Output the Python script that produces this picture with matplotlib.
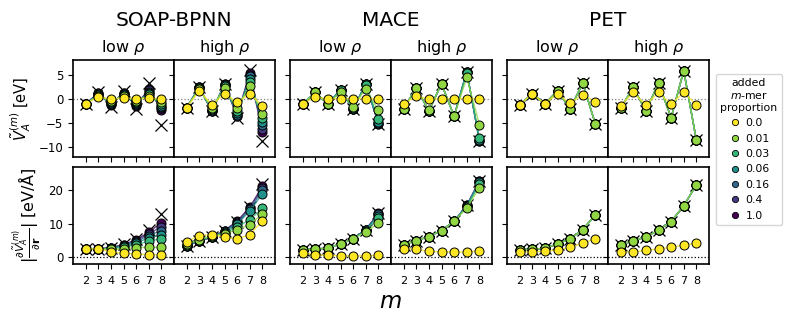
import numpy as np
import matplotlib
matplotlib.use('Agg')
import matplotlib.pyplot as plt
from matplotlib.lines import Line2D

m = [2, 3, 4, 5, 6, 7, 8]
prop_labels = ['0.0', '0.01', '0.03', '0.06', '0.16', '0.4', '1.0']
models = ['SOAP-BPNN', 'MACE', 'PET']
densities = ['low $\\rho$', 'high $\\rho$']

# energies, one row per added m-mer proportion (0.0 ... 1.0)
soap_low_V = [[-1.0, 0.35, -0.05, 0.15, 0.05, 0.1, 0.05],
              [-1.05, 0.6, -0.4, 0.5, -0.4, 0.6, -0.7],
              [-1.05, 0.8, -0.7, 0.8, -0.7, 0.9, -1.1],
              [-1.05, 0.9, -0.9, 0.9, -0.9, 1.2, -1.4],
              [-1.05, 1.0, -1.0, 1.0, -1.1, 1.5, -1.7],
              [-1.05, 1.1, -1.1, 1.1, -1.3, 1.8, -2.0],
              [-1.05, 1.2, -1.2, 1.2, -1.4, 2.0, -2.3]]
soap_low_V_ref = [-1.0, 1.4, -1.6, 1.7, -2.1, 3.3, -5.4]

soap_high_V = [[-1.8, 1.67, -1.25, 1.0, -0.7, 1.0, -1.4],
               [-1.8, 2.0, -1.9, 2.3, -1.9, 2.6, -3.1],
               [-1.8, 2.2, -2.2, 2.6, -2.6, 3.4, -3.9],
               [-1.8, 2.3, -2.4, 2.8, -3.0, 4.0, -4.7],
               [-1.8, 2.35, -2.5, 2.9, -3.3, 4.6, -5.5],
               [-1.8, 2.4, -2.5, 3.0, -3.5, 5.0, -6.2],
               [-1.8, 2.4, -2.6, 3.0, -3.6, 5.3, -6.8]]
soap_high_V_ref = [-1.8, 2.4, -2.6, 3.05, -4.0, 5.9, -8.75]

mace_low_V = [[-1.05, 0.35, 0.05, 0.05, 0.05, 0.05, 0.05],
              [-1.1, 1.3, -1.1, 1.4, -1.6, 2.1, -2.4],
              [-1.1, 1.3, -1.1, 1.8, -2.0, 2.9, -4.2],
              [-1.1, 1.3, -1.1, 1.9, -2.1, 3.0, -4.8],
              [-1.1, 1.3, -1.1, 1.9, -2.1, 3.1, -5.0],
              [-1.1, 1.3, -1.1, 1.9, -2.2, 3.1, -5.1],
              [-1.1, 1.3, -1.1, 1.9, -2.2, 3.1, -5.1]]
mace_low_V_ref = [-1.1, 1.3, -1.1, 1.9, -2.2, 3.1, -5.1]

mace_high_V = [[-1.1, 0.6, -0.1, 0.05, 0.05, 0.05, 0.05],
               [-2.1, 2.3, -2.4, 3.1, -3.6, 4.4, -5.3],
               [-2.1, 2.3, -2.5, 3.1, -3.6, 5.4, -8.1],
               [-2.1, 2.3, -2.5, 3.1, -3.6, 5.6, -8.5],
               [-2.1, 2.3, -2.5, 3.1, -3.6, 5.6, -8.5],
               [-2.1, 2.3, -2.5, 3.1, -3.6, 5.6, -8.6],
               [-2.1, 2.3, -2.5, 3.1, -3.6, 5.6, -8.6]]
mace_high_V_ref = [-2.1, 2.3, -2.5, 3.1, -3.6, 5.6, -8.6]

pet_low_V = [[-1.25, 1.05, -1.05, 1.05, -0.9, 0.85, -0.6],
             [-1.25, 1.05, -1.05, 1.65, -2.1, 3.25, -5.2],
             [-1.25, 1.05, -1.05, 1.65, -2.1, 3.25, -5.2],
             [-1.25, 1.05, -1.05, 1.65, -2.1, 3.25, -5.2],
             [-1.25, 1.05, -1.05, 1.65, -2.1, 3.25, -5.2],
             [-1.25, 1.05, -1.05, 1.65, -2.1, 3.25, -5.2],
             [-1.25, 1.05, -1.05, 1.65, -2.1, 3.25, -5.2]]
pet_low_V_ref = [-1.25, 1.05, -1.05, 1.65, -2.1, 3.25, -5.2]

pet_high_V = [[-1.4, 1.3, -1.25, 1.3, -1.1, 1.3, -1.2],
              [-1.95, 2.35, -2.5, 3.25, -3.9, 5.8, -8.55],
              [-1.95, 2.35, -2.5, 3.25, -3.9, 5.8, -8.55],
              [-1.95, 2.35, -2.5, 3.25, -3.9, 5.8, -8.55],
              [-1.95, 2.35, -2.5, 3.25, -3.9, 5.8, -8.55],
              [-1.95, 2.35, -2.5, 3.25, -3.9, 5.8, -8.55],
              [-1.95, 2.35, -2.5, 3.25, -3.9, 5.8, -8.55]]
pet_high_V_ref = [-1.9, 2.35, -2.5, 3.25, -3.9, 5.8, -8.55]

# force magnitudes
soap_low_F = [[2.6, 2.5, 1.7, 1.2, 1.0, 0.8, 0.8],
              [2.6, 2.5, 2.4, 2.5, 2.9, 3.0, 3.0],
              [2.6, 2.5, 2.6, 3.0, 3.8, 4.8, 5.6],
              [2.6, 2.5, 2.7, 3.3, 4.3, 5.8, 6.8],
              [2.6, 2.5, 2.8, 3.5, 4.7, 6.5, 8.0],
              [2.6, 2.5, 2.9, 3.7, 5.0, 7.0, 9.2],
              [2.6, 2.5, 2.9, 3.8, 5.2, 7.5, 10.4]]
soap_low_F_ref = [2.6, 2.5, 2.9, 3.9, 5.4, 8.2, 13.0]

soap_high_F = [[4.7, 6.5, 6.8, 6.0, 5.5, 6.8, 10.9],
               [4.0, 5.3, 6.4, 7.0, 8.2, 9.8, 13.0],
               [3.7, 5.1, 6.2, 7.3, 9.0, 11.3, 14.6],
               [3.5, 5.0, 6.1, 7.6, 10.0, 13.8, 19.0],
               [3.4, 5.0, 6.0, 7.8, 10.3, 14.3, 20.0],
               [3.4, 5.0, 6.0, 7.9, 10.6, 14.7, 20.7],
               [3.3, 4.9, 6.0, 8.0, 10.8, 15.0, 21.2]]
soap_high_F_ref = [3.3, 5.0, 6.0, 8.0, 10.5, 15.0, 22.0]

mace_low_F = [[1.3, 0.8, 0.6, 0.5, 0.4, 0.4, 0.6],
              [2.3, 2.4, 2.8, 4.0, 5.5, 7.6, 10.2],
              [2.3, 2.4, 2.8, 4.0, 5.5, 8.0, 11.8],
              [2.3, 2.4, 2.8, 4.0, 5.5, 8.2, 12.4],
              [2.3, 2.4, 2.8, 4.0, 5.5, 8.3, 12.8],
              [2.3, 2.4, 2.8, 4.0, 5.5, 8.3, 13.0],
              [2.3, 2.4, 2.8, 4.0, 5.5, 8.3, 13.1]]
mace_low_F_ref = [2.3, 2.4, 2.8, 4.0, 5.5, 8.3, 13.1]

mace_high_F = [[2.6, 2.4, 1.8, 1.6, 1.6, 1.5, 2.0],
               [3.8, 5.0, 6.2, 8.0, 10.8, 14.7, 20.8],
               [3.8, 5.0, 6.2, 8.0, 10.8, 15.0, 21.8],
               [3.8, 5.0, 6.2, 8.0, 10.8, 15.4, 22.5],
               [3.8, 5.0, 6.2, 8.0, 10.8, 15.4, 22.6],
               [3.8, 5.0, 6.2, 8.0, 10.8, 15.5, 22.8],
               [3.8, 5.0, 6.2, 8.0, 10.8, 15.5, 22.8]]
mace_high_F_ref = [3.8, 5.0, 6.2, 8.0, 10.8, 15.5, 22.8]

pet_low_F = [[1.5, 1.7, 1.8, 2.2, 3.0, 4.2, 5.6],
             [2.3, 2.4, 2.7, 4.0, 5.5, 8.3, 12.7],
             [2.3, 2.4, 2.7, 4.0, 5.5, 8.3, 12.7],
             [2.3, 2.4, 2.7, 4.0, 5.5, 8.3, 12.7],
             [2.3, 2.4, 2.7, 4.0, 5.5, 8.3, 12.7],
             [2.3, 2.4, 2.7, 4.0, 5.5, 8.3, 12.7],
             [2.3, 2.4, 2.7, 4.0, 5.5, 8.3, 12.7]]
pet_low_F_ref = [2.3, 2.4, 2.7, 4.0, 5.5, 8.3, 12.7]

pet_high_F = [[1.5, 1.6, 2.1, 2.5, 3.0, 3.6, 4.2],
              [3.7, 5.0, 6.1, 8.1, 10.7, 15.4, 21.7],
              [3.7, 5.0, 6.1, 8.1, 10.7, 15.4, 21.7],
              [3.7, 5.0, 6.1, 8.1, 10.7, 15.4, 21.7],
              [3.7, 5.0, 6.1, 8.1, 10.7, 15.4, 21.7],
              [3.7, 5.0, 6.1, 8.1, 10.7, 15.4, 21.7],
              [3.7, 5.0, 6.1, 8.1, 10.7, 15.4, 21.7]]
pet_high_F_ref = [3.7, 5.0, 6.1, 8.1, 10.7, 15.4, 21.7]

top_panels = [(soap_low_V, soap_low_V_ref), (soap_high_V, soap_high_V_ref),
              (mace_low_V, mace_low_V_ref), (mace_high_V, mace_high_V_ref),
              (pet_low_V, pet_low_V_ref), (pet_high_V, pet_high_V_ref)]
bottom_panels = [(soap_low_F, soap_low_F_ref), (soap_high_F, soap_high_F_ref),
                 (mace_low_F, mace_low_F_ref), (mace_high_F, mace_high_F_ref),
                 (pet_low_F, pet_low_F_ref), (pet_high_F, pet_high_F_ref)]

colors = plt.cm.viridis(np.linspace(1, 0, len(prop_labels)))

plt.rcParams['axes.linewidth'] = 1.2
plt.rcParams['xtick.labelsize'] = 8
plt.rcParams['ytick.labelsize'] = 8.5

fig = plt.figure(figsize=(7.93, 3.25), dpi=100)
W, H = 793, 325
lefts = [73, 174, 290, 391, 507, 608]
pw = 101
tops = [60, 167]
ph = 97

axes = []
for r in range(2):
    row = []
    for c in range(6):
        ax = fig.add_axes([lefts[c] / W, 1 - (tops[r] + ph) / H, pw / W, ph / H])
        row.append(ax)
    axes.append(row)


def draw(ax, series, ref, zero_color):
    ax.axhline(0, color=zero_color, ls=':', lw=0.9, zorder=1)
    ax.plot(m, ref, 'x', color='k', ms=8, mew=0.9, zorder=2)
    for i in range(len(series) - 1, -1, -1):
        ax.plot(m, series[i], '-', color=colors[i], lw=1.0, alpha=0.8, zorder=3)
        ax.plot(m, series[i], 'o', color=colors[i], mec='k', ms=6.5, mew=0.7, zorder=3)
    ax.set_xlim(1, 9)
    ax.set_xticks(m)


for c in range(6):
    draw(axes[0][c], *top_panels[c], 'gray')
    axes[0][c].set_ylim(-12, 8)
    axes[0][c].set_yticks([-10, -5, 0, 5])
    axes[0][c].tick_params(labelbottom=False)
    axes[0][c].set_title(densities[c % 2], fontsize=11.5, pad=6)

    draw(axes[1][c], *bottom_panels[c], 'k')
    axes[1][c].set_ylim(-2, 27)
    axes[1][c].set_yticks([0, 10, 20])
    axes[1][c].tick_params(axis='x', pad=5)
    if c > 0:
        axes[0][c].tick_params(labelleft=False)
        axes[1][c].tick_params(labelleft=False)

axes[0][0].set_ylabel('$\\tilde{V}_A^{(m)}$ [eV]', fontsize=10.5)
axes[1][0].set_ylabel('$|\\frac{\\partial \\tilde{V}_A^{(m)}}{\\partial \\mathbf{r}}|$ [eV/Å]',
                      fontsize=11.5)

for k, name in enumerate(models):
    xc = (lefts[2 * k] + pw) / W
    fig.text(xc, 1 - 21 / H, name, fontsize=14.5, ha='center', va='center')

fig.text(390 / W, 1 - 301 / H, '$m$', fontsize=16.5, ha='center', va='center')

handles = [Line2D([], [], ls='', marker='o', color=colors[i], mec='k', mew=0.6, ms=4.5)
           for i in range(len(prop_labels))]
leg = fig.legend(handles, prop_labels, title='added\n$m$-mer\nproportion',
                 loc='upper left', bbox_to_anchor=(716 / W, 1 - 74 / H), borderaxespad=0,
                 fontsize=7.8, title_fontsize=7.8, handletextpad=0.4, handlelength=1.2,
                 labelspacing=0.5, frameon=True)
leg.get_title().set_multialignment('center')

plt.savefig('out.png', dpi=100)
